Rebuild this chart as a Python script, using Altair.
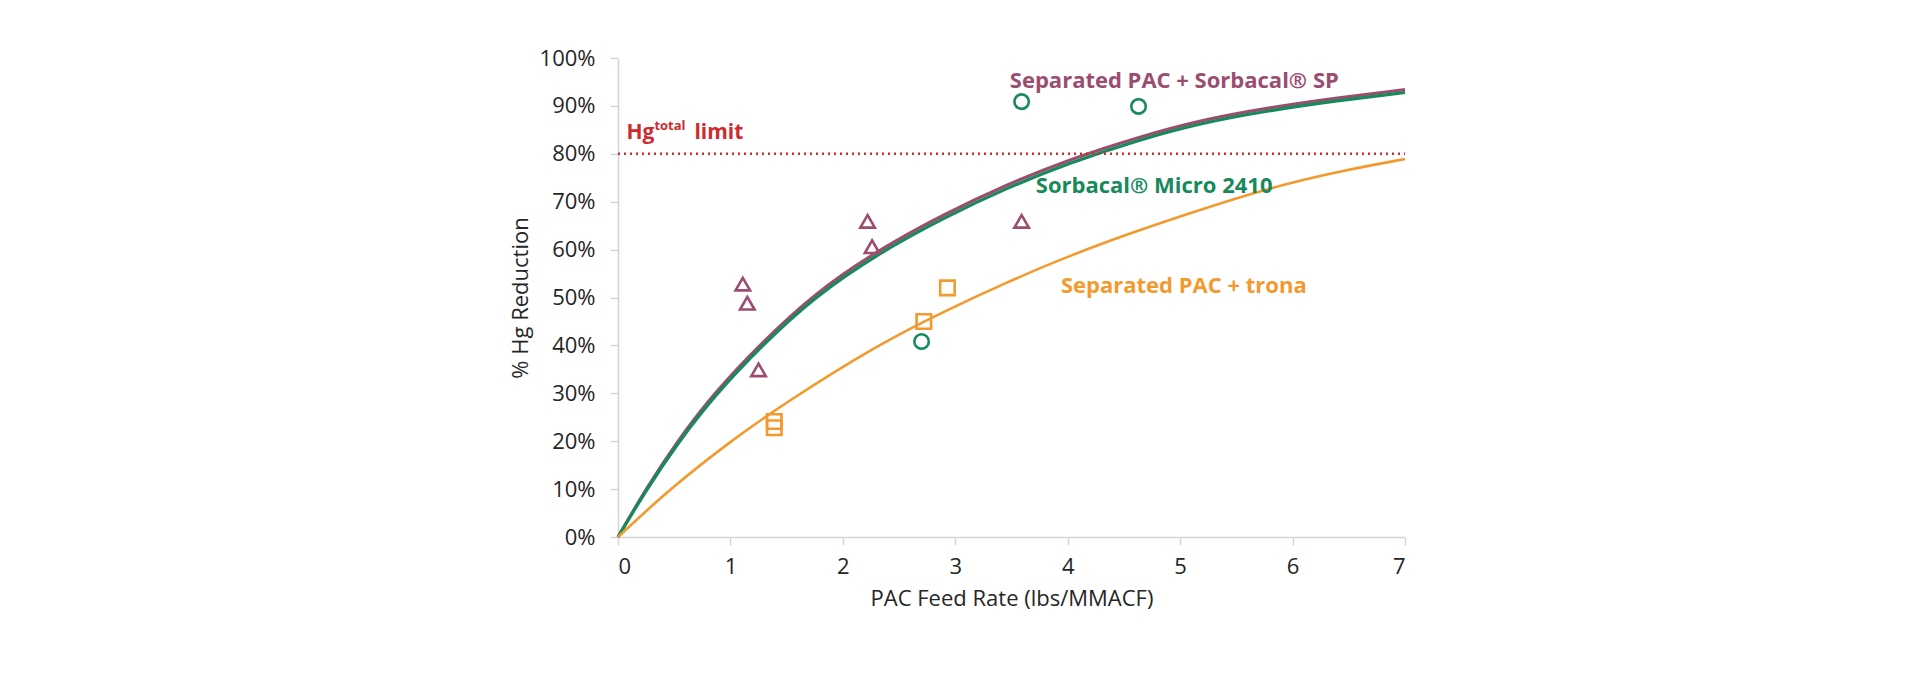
import altair as alt
import pandas as pd

sp_x = [1.11, 1.15, 1.25, 2.22, 2.26, 3.59]
sp_y = [52.8, 48.8, 34.9, 65.9, 60.6, 65.9]
micro_x = [2.70, 3.59, 4.63]
micro_y = [40.8, 90.9, 89.9]
trona_x = [1.39, 1.39, 2.72, 2.93]
trona_y = [24.1, 22.8, 45.0, 52.0]

# ---- fitted curves ----
sp_curve_x = [0, 0.25, 0.53, 0.86, 1.28, 1.75, 2.3, 2.9, 3.47, 4.0, 4.63, 5.2, 5.78, 6.4, 7.0]
sp_curve_y = [0, 10.1, 20.1, 30.2, 40.6, 50.9, 59.7, 67.4, 73.7, 78.7, 83.5, 87.1, 89.6, 91.7, 93.4]
micro_curve_x = [0, 0.25, 0.53, 0.86, 1.28, 1.75, 2.3, 2.9, 3.47, 4.0, 4.63, 5.2, 5.78, 6.4, 7.0]
micro_curve_y = [0, 9.8, 19.6, 29.6, 40.0, 50.2, 59.0, 66.7, 73.0, 78.0, 82.9, 86.5, 89.0, 91.1, 92.8]
trona_curve_x = [0, 0.46, 1.0, 1.48, 2.3, 2.9, 3.47, 4.0, 4.6, 5.2, 5.78, 6.4, 7.0]
trona_curve_y = [0, 10.0, 20.0, 27.9, 40.0, 47.1, 53.3, 58.6, 63.8, 68.5, 72.8, 76.3, 78.9]

# ---- limit line and annotations ----
limit_value = 80
limit_label_x = 0.075
limit_label_y = 83.1
series_names = ["SP", "Micro", "Trona"]
series_labels = ["Separated PAC + Sorbacal\u00ae SP", "Sorbacal\u00ae Micro 2410", "Separated PAC + trona"]
label_x = [3.485, 3.716, 3.94]
label_y = [93.7, 71.9, 50.9]

x_ticks = [0, 1, 2, 3, 4, 5, 6, 7]
y_ticks = [0, 10, 20, 30, 40, 50, 60, 70, 80, 90, 100]

MAROON = "#9B4D70"
GREEN = "#178A5B"
ORANGE = "#F39A2E"
RED = "#CF2A2E"
FONT = "Open Sans"

points = pd.concat([
    pd.DataFrame({"x": sp_x, "y": sp_y, "series": "SP"}),
    pd.DataFrame({"x": micro_x, "y": micro_y, "series": "Micro"}),
    pd.DataFrame({"x": trona_x, "y": trona_y, "series": "Trona"}),
])
sp_curve = pd.DataFrame({"x": sp_curve_x, "y": sp_curve_y})
micro_curve = pd.DataFrame({"x": micro_curve_x, "y": micro_curve_y})
trona_curve = pd.DataFrame({"x": trona_curve_x, "y": trona_curve_y})
labels = pd.DataFrame({"x": label_x, "y": label_y, "text": series_labels, "series": series_names})
limit_df = pd.DataFrame({"y": [limit_value], "x": [0], "x2": [7]})
limit_lbl = pd.DataFrame({"x": [limit_label_x], "y": [limit_label_y]})

color_scale = alt.Scale(domain=series_names, range=[MAROON, GREEN, ORANGE])
shape_scale = alt.Scale(domain=series_names, range=["triangle-up", "circle", "square"])

X = alt.X("x:Q", scale=alt.Scale(domain=[0, 7], nice=False),
          axis=alt.Axis(values=x_ticks, title="PAC Feed Rate (lbs/MMACF)", labelPadding=11,
                        titlePadding=11, format="d"))
Y = alt.Y("y:Q", scale=alt.Scale(domain=[0, 100], nice=False),
          axis=alt.Axis(values=y_ticks, title="% Hg Reduction", labelExpr="datum.value + '%'",
                        labelPadding=15, titlePadding=7))

base_axes = alt.Chart(sp_curve).mark_line(color=MAROON, strokeWidth=3.2, interpolate="basis").encode(x=X, y=Y)
micro_line = alt.Chart(micro_curve).mark_line(color=GREEN, strokeWidth=3.2, interpolate="basis").encode(x="x:Q", y="y:Q")
trona_line = alt.Chart(trona_curve).mark_line(color=ORANGE, strokeWidth=2.6, interpolate="basis").encode(x="x:Q", y="y:Q")

limit_rule = alt.Chart(limit_df).mark_rule(color=RED, strokeWidth=2.5, strokeDash=[2, 4]).encode(
    x="x:Q", x2="x2:Q", y="y:Q")

pts = alt.Chart(points).mark_point(filled=False, strokeWidth=2.6, size=210, opacity=1).encode(
    x="x:Q", y="y:Q",
    color=alt.Color("series:N", scale=color_scale, legend=None),
    shape=alt.Shape("series:N", scale=shape_scale, legend=None),
)

txt = alt.Chart(labels).mark_text(align="left", baseline="alphabetic", font=FONT, fontSize=22,
                                  fontWeight="bold").encode(
    x="x:Q", y="y:Q", text="text:N",
    color=alt.Color("series:N", scale=color_scale, legend=None),
)

hg = alt.Chart(limit_lbl).mark_text(align="left", baseline="alphabetic", font=FONT, fontSize=21,
                                    fontWeight="bold", color=RED, text="Hg").encode(x="x:Q", y="y:Q")
total = alt.Chart(limit_lbl).mark_text(align="left", baseline="alphabetic", font=FONT, fontSize=13,
                                       fontWeight="bold", color=RED, text="total", dx=28, dy=-9).encode(x="x:Q", y="y:Q")
limit_word = alt.Chart(limit_lbl).mark_text(align="left", baseline="alphabetic", font=FONT, fontSize=21,
                                            fontWeight="bold", color=RED, text="limit", dx=68).encode(x="x:Q", y="y:Q")

chart = alt.layer(base_axes, micro_line, trona_line, limit_rule, pts, txt, hg, total, limit_word).properties(
    width=787, height=479,
    padding={"left": 618, "top": 58, "right": 515, "bottom": 143},
    autosize=alt.AutoSizeParams(type="none"),
    background="white",
).configure_view(stroke=None).configure_axis(
    grid=False,
    domainColor="#D4D4D4", domainWidth=1.5,
    tickColor="#D4D4D4", tickSize=8, tickWidth=1.5,
    labelFont=FONT, labelFontSize=22, labelColor="#262626",
    titleFont=FONT, titleFontSize=22, titleFontWeight="normal", titleColor="#262626",
)

chart.save("out.html", embed_options={"renderer": "svg", "actions": False})
